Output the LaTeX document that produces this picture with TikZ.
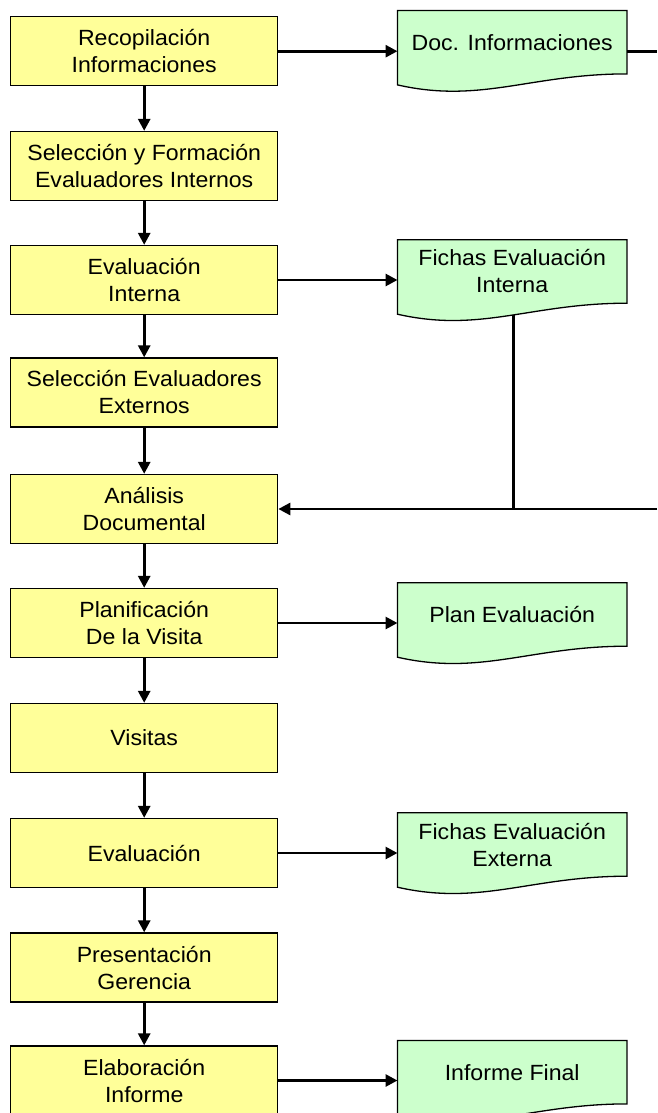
\documentclass[tikz,border=0pt]{standalone}
\usepackage{fontspec}
\setmainfont{Liberation Sans}[FakeStretch=1.05]
\usetikzlibrary{arrows.meta,calc}
\definecolor{boxyellow}{HTML}{FFFF99}
\definecolor{docgreen}{HTML}{CCFFCC}
\pgfdeclarelayer{background}
\pgfsetlayers{background,main}
\newcommand\fs{\fontsize{22}{27}\selectfont}
\newcommand\docwave[1]{%
  \begin{pgfonlayer}{background}
  \draw[docline] (#1.north west) -- (#1.north east) -- (#1.south east)
    .. controls ($(#1.south east)+(-96,0)$) and ($(#1.south east)+(-146,30)$) ..
    coordinate[pos=0.47] (#1-b) ($(#1.south west)+(0,11)$) -- cycle;
  \end{pgfonlayer}}
\tikzset{
  stepbox/.style={draw, line width=1.3pt, fill=boxyellow, minimum width=267pt,
    minimum height=69pt, inner sep=0pt, align=center, font=\fs},
  docbox/.style={minimum width=229pt, minimum height=63pt, inner sep=0pt,
    align=center, font=\fs},
  docline/.style={draw, line width=1.3pt, fill=docgreen},
  conn/.style={line width=2.8pt, -{Triangle[length=12pt,width=12pt]}},
  plainline/.style={line width=2.8pt}
}
\begin{document}
\begin{tikzpicture}[x=1pt,y=-1pt]
\useasboundingbox (0,0) rectangle (657,1113);
% process boxes
\node[stepbox] (b1) at (144.2,51.2) {Recopilación\\Informaciones};
\node[stepbox] (b2) at (144.2,166) {Selección y Formación\\Evaluadores Internos};
\node[stepbox] (b3) at (144.2,280) {Evaluación\\Interna};
\node[stepbox] (b4) at (144.2,392.5) {Selección Evaluadores\\Externos};
\node[stepbox] (b5) at (144.2,509) {Análisis\\Documental};
\node[stepbox] (b6) at (144.2,623) {Planificación\\De la Visita};
\node[stepbox] (b7) at (144.2,738) {Visitas};
\node[stepbox] (b8) at (144.2,853) {Evaluación};
\node[stepbox] (b9) at (144.2,967.5) {Presentación\\Gerencia};
\node[stepbox] (b10) at (144.2,1080.5) {Elaboración\\Informe};
% documents
\node[docbox] (d1) at (512.2,42.2) {\raisebox{-3pt}{Doc. Informaciones}};
\docwave{d1}
\node[docbox] (d2) at (512.2,271.5) {Fichas Evaluación\\Interna};
\docwave{d2}
\node[docbox] (d3) at (512.2,614.5) {\raisebox{-2pt}{Plan Evaluación}};
\docwave{d3}
\node[docbox] (d4) at (512.2,844.5) {Fichas Evaluación\\Externa};
\docwave{d4}
\node[docbox] (d5) at (512.2,1072.2) {\raisebox{-2pt}{Informe Final}};
\docwave{d5}
% vertical flow
\foreach \a/\b in {b1/b2,b2/b3,b3/b4,b4/b5,b5/b6,b6/b7,b7/b8,b8/b9,b9/b10}
  \draw[conn] (\a.south) -- (\b.north);
% to documents
\draw[conn] (b1.east) -- (b1.east -| d1.west);
\draw[conn] (b3.east) -- (b3.east -| d2.west);
\draw[conn] (b6.east) -- (b6.east -| d3.west);
\draw[conn] (b8.east) -- (b8.east -| d4.west);
\draw[conn] (b10.east) -- (b10.east -| d5.west);
% outgoing / feedback lines
\coordinate (e1) at (657,51.2);
\coordinate (e2) at (657,509);
\coordinate (j) at (d2-b |- b5.east);
\draw[plainline] (d1.east |- b1.east) -- (e1);
\draw[plainline] (d2-b) -- (j);
\draw[conn] (e2) -- (b5.east);
\end{tikzpicture}
\end{document}
